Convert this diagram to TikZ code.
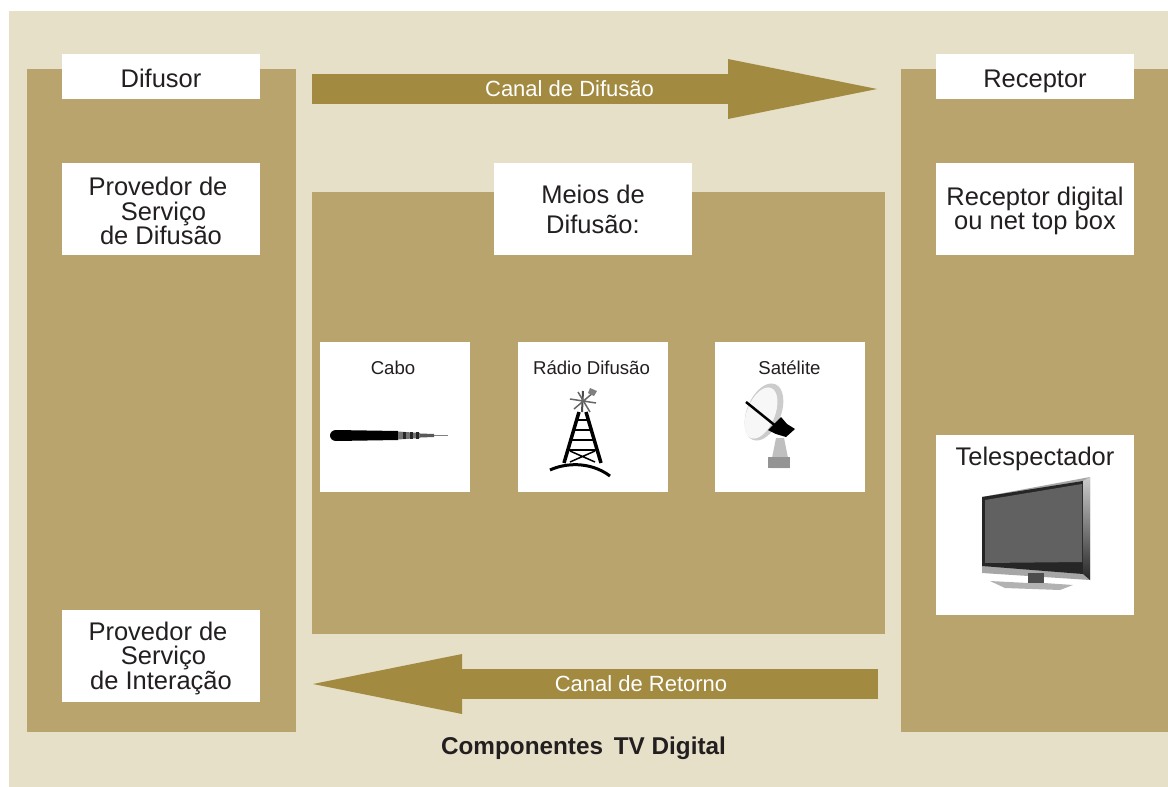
\documentclass[tikz,border=0pt]{standalone}
\usepackage{xcolor}
\usepackage{fontspec}
\setmainfont{Liberation Sans}
\usepackage{tikz}
\usetikzlibrary{positioning, arrows.meta}
\definecolor{cream}{HTML}{E6E0C8}
\definecolor{khaki}{HTML}{B8A46C}
\definecolor{olive}{HTML}{A28A40}
\definecolor{ink}{HTML}{231F20}
\newcommand{\topgap}{\rule{0pt}{22.5pt}}
\tikzset{
    panel/.style={fill=khaki, anchor=north west, inner sep=0pt},
    whitebox/.style={fill=white, text=ink, align=center, inner sep=0pt, minimum width=198pt, font=\fontsize{25.5}{24.5}\selectfont},
    oneline/.style={text height=21pt, text depth=0pt},
    mediabox/.style={fill=white, text=ink, inner sep=0pt, minimum width=150pt, minimum height=150pt},
    medialabel/.style={text=ink, inner sep=0pt, font=\fontsize{18.6}{20}\selectfont},
    channel/.style={line width=30pt, draw=olive},
    channeltip/.style={-{Triangle[length=149pt, width=60pt, line width=0pt]}},
    channellabel/.style={text=white, inner sep=0pt, font=\fontsize{22}{24}\selectfont}
}
\begin{document}
\begin{tikzpicture}[x=1pt, y=-1pt]
    \useasboundingbox (0,0) rectangle (1168,787);
    \fill[cream] (9,11) rectangle (1168,787);

    % Panels
    \node[panel, minimum width=269pt, minimum height=663pt] (difusorpanel) at (27,69) {};
    \node[panel, minimum width=267pt, minimum height=663pt] (receptorpanel) at (901,69) {};
    \node[panel, minimum width=573pt, minimum height=442pt] (meiospanel) at (312,192) {};

    % Nodes
    \node[whitebox, oneline, minimum height=45pt] (difusor) at (161,76.5) {Difusor};
    \node[whitebox, minimum height=92pt] (provedordifusao) at (161,209) {\topgap Provedor de\hspace*{6pt}\\\hspace*{5pt}Serviço\\de Difusão};
    \node[whitebox, minimum height=92pt] (provedorinteracao) at (161,656) {\topgap Provedor de\hspace*{6pt}\\\hspace*{5pt}Serviço\\de Interação};
    \node[whitebox, oneline, minimum height=45pt] (receptor) at (1035,76.5) {Receptor};
    \node[whitebox, minimum height=92pt] (receptordigital) at (1035,209) {\topgap Receptor digital\\ou net top box};
    \node[whitebox, minimum height=180pt] (telespectador) at (1035,525) {};
    \node[text=ink, inner sep=0pt, text height=18.5pt, text depth=0pt, font=\fontsize{25.5}{24}\selectfont] (telespectadorlabel) at (1035,456) {Telespectador};
    \node[whitebox, minimum height=92pt] (meios) at (593,209) {Meios de\\[5.5pt]Difusão:};

    \node[mediabox] (cabo) at (395,417) {};
    \node[mediabox] (radio) at (593,417) {};
    \node[mediabox] (satelite) at (790,417) {};
    \node[medialabel] (cabolabel) at (393,368) {Cabo};
    \node[medialabel] (radiolabel) at (591.5,368) {Rádio Difusão};
    \node[medialabel] (satelitelabel) at (789.5,368) {Satélite};

    % Arrows
    \coordinate (difusaostart) at (312,89);
    \coordinate (difusaoend) at (877,89);
    \coordinate (retornostart) at (878,684);
    \coordinate (retornoend) at (313,684);
    \draw[channel, channeltip] (difusaostart) -- (difusaoend);
    \draw[channel, channeltip] (retornostart) -- (retornoend);
    \node[channellabel] (canaldifusao) at (569.5,89) {Canal de Difusão};
    \node[channellabel] (canalretorno) at (641,684) {Canal de Retorno};

    % Cable
    \fill[black] (330,435.5) to[out=90, in=180] (336,430) -- (398,431) -- (398,440) -- (336,441) to[out=180, in=270] cycle;
    \fill[black!55] (398,431.5) -- (420,433) -- (420,438) -- (398,439.5) -- cycle;
    \foreach \x in {403,410,416}
        \fill[black!85] (\x,432) rectangle +(3,7);
    \fill[black!65] (420,433.5) -- (434,434) -- (434,437) -- (420,437.5) -- cycle;
    \draw[black!50, line width=1pt] (434,435.5) -- (448,435.5);

    % Tower
    \draw[black, line width=3.5pt] (579,412) -- (564,463);
    \draw[black, line width=3.5pt] (586,412) -- (601,463);
    \foreach \y/\xl/\xr in {420/577/588, 430/574/591, 440/571/594, 450/568/597}
        \draw[black, line width=2pt] (\xl,\y) -- (\xr,\y);
    \draw[black, line width=1.5pt] (570,451) -- (595,462) (595,451) -- (570,462);
    \draw[black, line width=3pt] (550,470) .. controls (565,463) and (590,461) .. (610,476);
    \draw[black!70, line width=2pt] (582,412) -- (583,391);
    \draw[black!60, line width=1.5pt] (570,399) -- (596,403) (574,409) -- (594,392) (578,392) -- (590,412);
    \fill[black!50] (590,388) -- (597,391) -- (594,396) -- (588,393) -- cycle;

    % Dish
    \fill[black!20, rotate around={-22:(764,412)}] (764,412) ellipse (17pt and 30pt);
    \fill[black!3, rotate around={-22:(761,413)}] (761,413) ellipse (14pt and 27pt);
    \fill[black!25] (770,468) -- (776,438) -- (784,438) -- (790,468) -- cycle;
    \fill[black!42] (768,457) rectangle (790,468);
    \draw[black, line width=2.5pt] (746,402) -- (777,427);
    \fill[black] (768,430) -- (781,417) -- (787,424) -- (795,429) -- (786,437) -- (776,434) -- cycle;

    % Television
    \fill[black!35] (982,497) -- (1090,477) -- (1090,580) -- (982,573) -- cycle;
    \fill[black!85] (982,497) -- (1083,481) -- (1083,574) -- (982,566) -- cycle;
    \fill[black!62] (985,500) -- (1082,484) -- (1082,562) -- (985,563) -- cycle;
    \shade[top color=black!20, bottom color=black!85] (1083,481) -- (1090,477) -- (1090,580) -- (1083,574) -- cycle;
    \fill[black!70] (1028,573) rectangle (1044,587);
    \fill[black!30] (990,581) -- (1028,583) -- (1044,583) -- (1073,585) -- (1060,590) -- (1005,588) -- cycle;

    \node[inner sep=0pt, text=ink, font=\bfseries\fontsize{24.3}{26}\selectfont] (titulo) at (583.5,748) {Componentes\, TV Digital};
\end{tikzpicture}
\end{document}
